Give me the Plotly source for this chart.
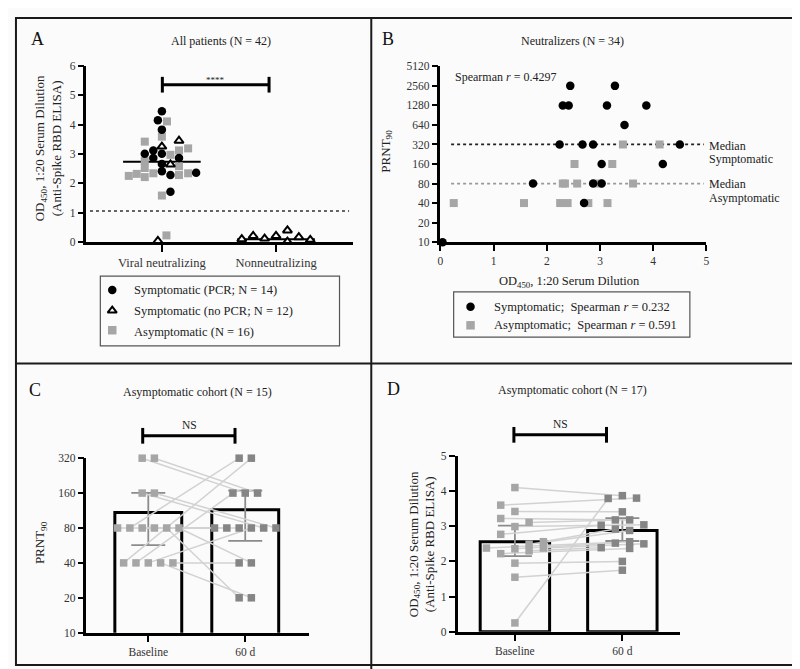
import plotly.graph_objects as go

FONT = "'Liberation Serif', 'DejaVu Serif', 'Times New Roman', serif"
W, H = 800, 669
BG = "#fbfbfb"
GRAY = "#a6a6a6"
GRAY_DARK = "#858585"
LINE_GRAY = "#d2d2d2"

# ---------------- Panel A data ----------------
a_categories = ["Viral neutralizing", "Nonneutralizing"]
a_pcr_x = [0.0, -0.035, 0.0, -0.075, -0.15, -0.075, 0.0, 0.0, 0.0, 0.075, 0.15, 0.3, 0.075]
a_pcr_y = [4.46, 4.15, 3.83, 3.12, 3.01, 2.86, 3.01, 2.66, 2.41, 2.28, 2.86, 2.36, 1.71]
a_nopcr_x = [0.0, 0.15, 0.075, -0.035, 0.7, 0.8, 0.9, 1.0, 1.1, 1.1, 1.2, 1.3]
a_nopcr_y = [3.25, 3.45, 2.64, 0.03, 0.09, 0.2, 0.11, 0.2, 0.39, 0.01, 0.16, 0.07]
a_asym_x = [0.045, 0.0, -0.15, 0.15, 0.23, 0.075, -0.15, -0.15, -0.29, -0.22, -0.15, -0.075, 0.15, 0.15, 0.23, 0.0, 0.04]
a_asym_y = [4.11, 3.59, 3.42, 3.12, 3.19, 2.97, 2.76, 2.52, 2.25, 2.32, 2.21, 2.34, 2.58, 2.28, 2.34, 1.58, 0.22]
a_medians = [2.73, 0.09]
a_cutoff = 1.05
a_sig = "****"

# ---------------- Panel B data ----------------
b_sym_x = [2.44, 3.28, 2.30, 2.41, 3.13, 3.87, 3.46, 2.24, 2.67, 2.87, 4.50, 3.03, 4.18, 1.74, 2.87, 3.03, 2.70, 0.04]
b_sym_y = [2560, 2560, 1280, 1280, 1280, 1280, 640, 320, 320, 320, 320, 160, 160, 80, 80, 80, 40, 10]
b_asym_x = [3.43, 4.12, 2.52, 3.23, 2.34, 2.57, 2.98, 3.62, 0.25, 1.57, 2.25, 2.39, 2.78, 3.14, 2.30]
b_asym_y = [320, 320, 160, 160, 80, 80, 80, 80, 40, 40, 40, 40, 40, 40, 80]
b_median_sym = 320
b_median_asym = 80
b_ticks = [10, 20, 40, 80, 160, 320, 640, 1280, 2560, 5120]

# ---------------- Panel C data (PRNT90, paired) ----------------
c_groups = ["Baseline", "60 d"]
c_base_y = [320, 320, 160, 160, 80, 80, 80, 80, 80, 80, 40, 40, 40, 40, 40]
c_base_off = [-0.063, 0.063, -0.063, 0.063, -0.317, -0.19, -0.063, 0.063, 0.19, 0.317, -0.254, -0.127, 0.0, 0.127, 0.254]
c_d60_y = [160, 160, 80, 80, 80, 320, 80, 80, 20, 40, 320, 160, 80, 20, 40]
c_d60_off = [0.0, 0.127, 0.19, 0.317, -0.317, -0.063, -0.19, -0.063, -0.063, 0.063, 0.063, -0.127, 0.063, 0.063, -0.063]
c_means = [109, 115]
c_ci_low = [57, 62]
c_ci_high = [161, 168]
c_ticks = [10, 20, 40, 80, 160, 320]

# ---------------- Panel D data (OD450, paired) ----------------
d_base_y = [4.10, 3.60, 3.42, 3.22, 3.11, 2.99, 2.77, 2.56, 2.49, 2.38, 2.38, 2.36, 2.30, 2.22, 1.95, 1.55, 0.25]
d_base_off = [0.0, -0.132, 0.0, -0.132, 0.132, 0.0, -0.132, 0.265, 0.132, -0.265, 0.265, 0.0, 0.132, -0.132, 0.0, 0.0, 0.0]
d_d60_y = [3.87, 3.80, 3.41, 3.18, 3.18, 3.04, 3.03, 2.92, 2.88, 2.56, 2.50, 2.52, 2.39, 2.37, 2.00, 1.75, 3.79]
d_d60_off = [0.0, 0.132, 0.0, 0.068, -0.065, 0.2, -0.197, -0.065, 0.068, 0.068, 0.2, -0.065, -0.197, 0.068, 0.0, 0.0, -0.132]
d_means = [2.56, 2.88]
d_ci_low = [2.15, 2.58]
d_ci_high = [3.02, 3.23]


def px(x):
    return x / W


def py(y):
    return 1 - y / H


fig = go.Figure()

# ---------- Panel A traces ----------
med_x, med_y = [], []
for i, m in enumerate(a_medians):
    med_x += [i - 0.34, i + 0.34, None]
    med_y += [m, m, None]
fig.add_trace(go.Scatter(x=med_x, y=med_y, mode="lines", line=dict(color="black", width=2),
                         xaxis="x", yaxis="y", cliponaxis=False, showlegend=False))
fig.add_trace(go.Scatter(x=[-0.63, 1.64], y=[a_cutoff, a_cutoff], mode="lines",
                         line=dict(color="#333", width=1.5, dash="dot"),
                         xaxis="x", yaxis="y", showlegend=False))
fig.add_trace(go.Scatter(x=a_asym_x, y=a_asym_y, mode="markers",
                         marker=dict(symbol="square", size=8, color=GRAY),
                         xaxis="x", yaxis="y", cliponaxis=False, showlegend=False))
fig.add_trace(go.Scatter(x=a_pcr_x, y=a_pcr_y, mode="markers",
                         marker=dict(symbol="circle", size=8.5, color="black"),
                         xaxis="x", yaxis="y", cliponaxis=False, showlegend=False))
fig.add_trace(go.Scatter(x=a_nopcr_x, y=a_nopcr_y, mode="markers",
                         marker=dict(symbol="triangle-up", size=8, color="white",
                                     line=dict(color="black", width=2)),
                         xaxis="x", yaxis="y", cliponaxis=False, showlegend=False))

# ---------- Panel B traces ----------
fig.add_trace(go.Scatter(x=[0.2, 4.95], y=[b_median_sym, b_median_sym], mode="lines",
                         line=dict(color="#222", width=1.8, dash="dot"),
                         xaxis="x2", yaxis="y2", showlegend=False))
fig.add_trace(go.Scatter(x=[0.2, 4.95], y=[b_median_asym, b_median_asym], mode="lines",
                         line=dict(color="#999", width=1.8, dash="dot"),
                         xaxis="x2", yaxis="y2", showlegend=False))
fig.add_trace(go.Scatter(x=b_asym_x, y=b_asym_y, mode="markers",
                         marker=dict(symbol="square", size=8, color=GRAY),
                         xaxis="x2", yaxis="y2", cliponaxis=False, showlegend=False))
fig.add_trace(go.Scatter(x=b_sym_x, y=b_sym_y, mode="markers",
                         marker=dict(symbol="circle", size=8.5, color="black"),
                         xaxis="x2", yaxis="y2", cliponaxis=False, showlegend=False))

# ---------- Panel C traces ----------
fig.add_trace(go.Bar(x=[0, 1], y=c_means, width=0.69,
                     marker=dict(color="rgba(255,255,255,0)", line=dict(color="black", width=3)),
                     error_y=dict(type="data", symmetric=False,
                                  array=[h - m for h, m in zip(c_ci_high, c_means)],
                                  arrayminus=[m - l for l, m in zip(c_ci_low, c_means)],
                                  color="#8c8c8c", thickness=1.8, width=17),
                     xaxis="x3", yaxis="y3", showlegend=False))
cl_x, cl_y = [], []
for bo, by, ao, ay in zip(c_base_off, c_base_y, c_d60_off, c_d60_y):
    cl_x += [0 + bo, 1 + ao, None]
    cl_y += [by, ay, None]
fig.add_trace(go.Scatter(x=cl_x, y=cl_y, mode="lines", line=dict(color=LINE_GRAY, width=1.5),
                         xaxis="x3", yaxis="y3", showlegend=False))
fig.add_trace(go.Scatter(x=[0 + o for o in c_base_off], y=c_base_y, mode="markers",
                         marker=dict(symbol="square", size=7.5, color=GRAY),
                         xaxis="x3", yaxis="y3", cliponaxis=False, showlegend=False))
fig.add_trace(go.Scatter(x=[1 + o for o in c_d60_off], y=c_d60_y, mode="markers",
                         marker=dict(symbol="square", size=7.5, color=GRAY_DARK),
                         xaxis="x3", yaxis="y3", cliponaxis=False, showlegend=False))

# ---------- Panel D traces ----------
fig.add_trace(go.Bar(x=[0, 1], y=d_means, width=0.646,
                     marker=dict(color="rgba(255,255,255,0)", line=dict(color="black", width=3)),
                     error_y=dict(type="data", symmetric=False,
                                  array=[h - m for h, m in zip(d_ci_high, d_means)],
                                  arrayminus=[m - l for l, m in zip(d_ci_low, d_means)],
                                  color="#8c8c8c", thickness=1.8, width=17),
                     xaxis="x4", yaxis="y4", showlegend=False))
dl_x, dl_y = [], []
for bo, by, ao, ay in zip(d_base_off, d_base_y, d_d60_off, d_d60_y):
    dl_x += [0 + bo, 1 + ao, None]
    dl_y += [by, ay, None]
fig.add_trace(go.Scatter(x=dl_x, y=dl_y, mode="lines", line=dict(color=LINE_GRAY, width=1.5),
                         xaxis="x4", yaxis="y4", showlegend=False))
fig.add_trace(go.Scatter(x=[0 + o for o in d_base_off], y=d_base_y, mode="markers",
                         marker=dict(symbol="square", size=7.5, color=GRAY),
                         xaxis="x4", yaxis="y4", cliponaxis=False, showlegend=False))
fig.add_trace(go.Scatter(x=[1 + o for o in d_d60_off], y=d_d60_y, mode="markers",
                         marker=dict(symbol="square", size=7.5, color=GRAY_DARK),
                         xaxis="x4", yaxis="y4", cliponaxis=False, showlegend=False))

# ---------- Legend markers (pixel overlay axis) ----------
leg_sym = [
    (102, 281, "circle", "black", None),
    (102, 302, "triangle-up", "white", "black"),
    (102, 322, "square", GRAY, None),
    (463, 298, "circle", "black", None),
    (463, 317, "square", GRAY, None),
]
for lx, ly, sym, col, lc in leg_sym:
    mk = dict(symbol=sym, size=8.5 if sym != "triangle-up" else 8, color=col)
    if lc:
        mk["line"] = dict(color=lc, width=2)
    fig.add_trace(go.Scatter(x=[lx], y=[ly], mode="markers", marker=mk,
                             xaxis="x5", yaxis="y5", showlegend=False, cliponaxis=False))

# ---------- axes ----------
tickfont = dict(family=FONT, size=11.5, color="#333")
common = dict(showline=True, linecolor="black", linewidth=2.5, ticks="outside",
              tickcolor="black", tickwidth=2, ticklen=6, showgrid=False, zeroline=False,
              tickfont=tickfont, fixedrange=True)

fig.update_layout(
    xaxis=dict(domain=[px(76), px(345)], range=[-0.661, 1.678], anchor="y",
               tickvals=[0, 1], ticktext=a_categories,
               **{**common, "tickfont": dict(family=FONT, size=12.5, color="#333"), "ticklen": 7}),
    yaxis=dict(domain=[py(232), py(53)], range=[0, 6], anchor="x", dtick=1, **common),
    xaxis2=dict(domain=[px(432.7), px(700.7)], range=[0, 5], anchor="y2", dtick=1, **common),
    yaxis2=dict(domain=[py(232.3), py(53.3)], type="log", range=[1, 3.70927], anchor="x2",
                tickvals=b_ticks, ticktext=[str(t) for t in b_ticks], **common),
    xaxis3=dict(domain=[px(76), px(300)], range=[-0.638, 1.655], anchor="y3",
                tickvals=[0, 1], ticktext=c_groups, **{**common, "ticklen": 7}),
    yaxis3=dict(domain=[py(630), py(452.3)], type="log", range=[1, 2.50515], anchor="x3",
                tickvals=c_ticks, ticktext=[str(t) for t in c_ticks], **common),
    xaxis4=dict(domain=[px(450), px(674)], range=[-0.533, 1.536], anchor="y4",
                tickvals=[0, 1], ticktext=c_groups, **{**common, "ticklen": 7}),
    yaxis4=dict(domain=[py(629), py(450)], range=[0, 5], anchor="x4", dtick=1, **common),
    xaxis5=dict(domain=[0, 1], range=[0, W], anchor="y5", visible=False, fixedrange=True),
    yaxis5=dict(domain=[0, 1], range=[H, 0], anchor="x5", visible=False, fixedrange=True),
)

# ---------- shapes: borders, brackets, legend boxes ----------
shapes = []
border = dict(color="#1a1a1a", width=2)
shapes.append(dict(type="rect", xref="paper", yref="paper", x0=px(5), y0=py(4), x1=px(795), y1=py(663), line=border))
shapes.append(dict(type="line", xref="paper", yref="paper", x0=px(363), y0=py(4), x1=px(363), y1=py(669), line=border))
shapes.append(dict(type="line", xref="paper", yref="paper", x0=px(5), y0=py(356), x1=px(795), y1=py(356), line=border))
# legend boxes
shapes.append(dict(type="rect", xref="paper", yref="paper", x0=px(90), y0=py(267), x1=px(331), y1=py(338),
                   line=dict(color="#555", width=1.2)))
shapes.append(dict(type="rect", xref="paper", yref="paper", x0=px(446), y0=py(283), x1=px(684), y1=py(329),
                   line=dict(color="#555", width=1.2)))


def bracket(x0, x1, y, h=8):
    br = dict(color="black", width=3)
    return [
        dict(type="line", xref="paper", yref="paper", x0=px(x0), y0=py(y), x1=px(x1), y1=py(y), line=br),
        dict(type="line", xref="paper", yref="paper", x0=px(x0), y0=py(y - h), x1=px(x0), y1=py(y + h), line=br),
        dict(type="line", xref="paper", yref="paper", x0=px(x1), y0=py(y - h), x1=px(x1), y1=py(y + h), line=br),
    ]


shapes += bracket(152.5, 260, 72)
shapes += bracket(132.7, 225.7, 429.5)
shapes += bracket(506.7, 600, 428.5)
fig.update_layout(shapes=shapes)

# ---------- annotations ----------
ann = []


def text(x, y, s, size=11, xanchor="center", angle=0, color="#222", yanchor="middle"):
    ann.append(dict(x=px(x), y=py(y), xref="paper", yref="paper", text=s, showarrow=False,
                    xanchor=xanchor, yanchor=yanchor, textangle=angle,
                    font=dict(family=FONT, size=size, color=color)))


# panel letters
text(27, 25, "A", 18, color="#111")
text(380, 25, "B", 18, color="#111")
text(24, 383, "C", 18, color="#111")
text(385, 382, "D", 18, color="#111")
# titles
text(212, 27, "All patients (N = 42)", 12)
text(566, 27, "Neutralizers (N = 34)", 12)
text(188, 385, "Asymptomatic cohort (N = 15)", 12)
text(566, 383, "Asymptomatic cohort (N = 17)", 12)
# significance labels
text(206, 67, a_sig, 9)
text(180, 418, "NS", 11.5)
text(554, 417, "NS", 11.5)
# y-axis titles
text(37, 137, "OD<sub>450</sub>, 1:20 Serum Dilution<br>(Anti-Spike RBD ELISA)", 13, angle=-90)
text(378, 140, "PRNT<sub>90</sub>", 13, angle=-90)
text(30, 538, "PRNT<sub>90</sub>", 13, angle=-90)
text(414, 540, "OD<sub>450</sub>, 1:20 Serum Dilution<br>(Anti-Spike RBD ELISA)", 13, angle=-90)
# B x-axis title
text(563, 273, "OD<sub>450</sub>, 1:20 Serum Dilution", 12.5)
# B spearman
text(445, 64, "Spearman <i>r</i> = 0.4297", 12, xanchor="left")
# median labels
text(701, 134, "Median", 12, xanchor="left")
text(701, 148, "Symptomatic", 12, xanchor="left")
text(701, 173, "Median", 12, xanchor="left")
text(701, 187, "Asymptomatic", 12, xanchor="left")
# legend texts
text(122, 281, "Symptomatic (PCR; N = 14)", 12.5, xanchor="left")
text(122, 302, "Symptomatic (no PCR; N = 12)", 12.5, xanchor="left")
text(122, 324, "Asymptomatic (N = 16)", 12.5, xanchor="left")
text(485, 298, "Symptomatic;  Spearman <i>r</i> = 0.232", 12.5, xanchor="left")
text(485, 317, "Asymptomatic;  Spearman <i>r</i> = 0.591", 12.5, xanchor="left")
fig.update_layout(annotations=ann)

fig.update_layout(width=W, height=H, margin=dict(l=0, r=0, t=0, b=0),
                  paper_bgcolor=BG, plot_bgcolor="rgba(0,0,0,0)", showlegend=False,
                  font=dict(family=FONT), barmode="overlay")

fig.write_html("out.html")
